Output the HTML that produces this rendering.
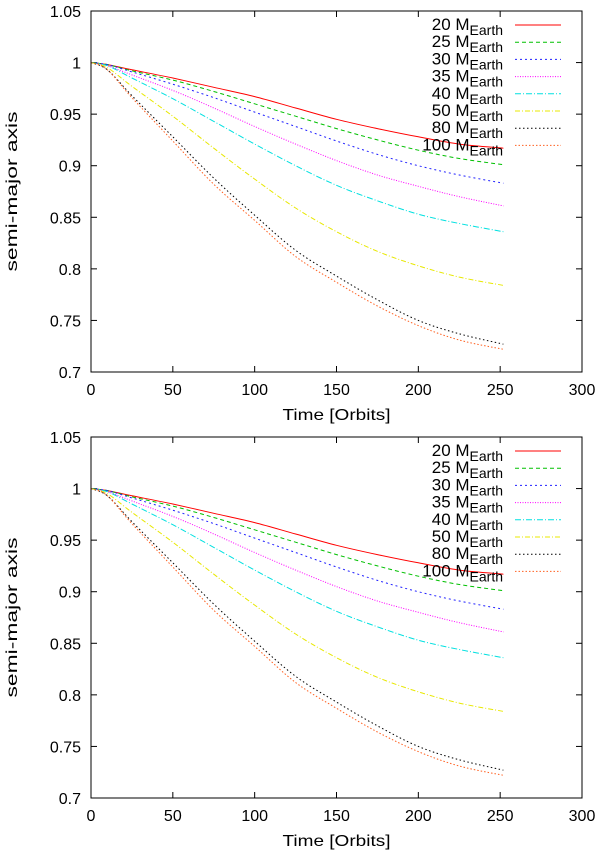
<!DOCTYPE html>
<html><head><meta charset="utf-8">
<style>
html,body{margin:0;padding:0;background:#fff;}
svg{display:block;font-family:"Liberation Sans",sans-serif;}
</style></head>
<body>
<svg id="chart" width="600" height="855" viewBox="0 0 600 855" xmlns="http://www.w3.org/2000/svg"></svg>
<script>
const times = [0,10,25,50,75,100,125,150,175,200,225,252];
const labels = ["20","25","30","35","40","50","80","100"];
const s20 = [1,.998,.993,.985,.976,.967,.956,.945,.936,.928,.921,.917];
const s25 = [1,.998,.992,.983,.972,.960,.948,.936,.925,.915,.907,.901];
const s30 = [1,.998,.991,.979,.966,.952,.938,.924,.911,.900,.891,.883];
const s35 = [1,.997,.988,.973,.956,.938,.921,.905,.891,.880,.870,.861];
const s40 = [1,.997,.985,.965,.943,.921,.900,.881,.866,.853,.844,.836];
const s50 = [1,.995,.977,.948,.917,.887,.859,.836,.817,.803,.792,.784];
const s80 = [1,.993,.968,.928,.888,.852,.818,.793,.770,.750,.737,.727];
const s100 = [1,.993,.966,.924,.882,.847,.812,.787,.764,.745,.731,.722];
const xTicks = [0,50,100,150,200,250,300];
const yTicks = [0.7,0.75,0.8,0.85,0.9,0.95,1,1.05];
const yTickLabels = ["0.7","0.75","0.8","0.85","0.9","0.95","1","1.05"];

const series=[s20,s25,s30,s35,s40,s50,s80,s100];
const colors=["#ff0000","#00c000","#2020ff","#ff00ff","#00e0e0","#e8e800","#000000","#ff6020"];
const dashes=["", "4,3","2,3","1,1.5","6,2,1,2","5,2,1,2","1.5,2.5","1.5,2"];
const NS="http://www.w3.org/2000/svg";
const svg=document.getElementById('chart');
function mk(tag,attrs,parent){const e=document.createElementNS(NS,tag);for(const k in attrs)e.setAttribute(k,attrs[k]);(parent||svg).appendChild(e);return e;}
function smooth(pts){
  let d='M'+pts[0][0].toFixed(1)+','+pts[0][1].toFixed(1);
  for(let i=0;i<pts.length-1;i++){
    const p0=pts[Math.max(0,i-1)],p1=pts[i],p2=pts[i+1],p3=pts[Math.min(pts.length-1,i+2)];
    const c1=[p1[0]+(p2[0]-p0[0])/6,p1[1]+(p2[1]-p0[1])/6];
    const c2=[p2[0]-(p3[0]-p1[0])/6,p2[1]-(p3[1]-p1[1])/6];
    d+=' C'+c1[0].toFixed(1)+','+c1[1].toFixed(1)+' '+c2[0].toFixed(1)+','+c2[1].toFixed(1)+' '+p2[0].toFixed(1)+','+p2[1].toFixed(1);
  }
  return d;
}

function panel(top,bottom,idx){
  const L=91,R=582;
  const g=mk('g',{});
  
  
  const xs=v=>L+(v/300)*(R-L);
  const ys=v=>bottom-(v-0.7)/0.35*(bottom-top);
  xTicks.forEach(t=>{
    const x=xs(t);
    mk('line',{x1:x,x2:x,y1:bottom,y2:bottom-6,stroke:'#000'},g);
    mk('line',{x1:x,x2:x,y1:top,y2:top+6,stroke:'#000'},g);
    const tx=mk('text',{x:x,y:bottom+23,'text-anchor':'middle','font-size':'16'},g);
    tx.textContent=t;
    
    
  });
  yTicks.forEach((t,i)=>{
    const y=ys(t);
    mk('line',{x1:L,x2:L+6,y1:y,y2:y,stroke:'#000'},g);
    mk('line',{x1:R,x2:R-6,y1:y,y2:y,stroke:'#000'},g);
    const tx=mk('text',{x:L-10,y:y+6,'text-anchor':'end','font-size':'16'},g);
    tx.textContent=yTickLabels[i];
    
    
  });
  series.forEach((s,i)=>{
    const pts=s.map((v,j)=>[xs(times[j]),ys(v)]);
    const p=mk('path',{d:smooth(pts),fill:'none',stroke:colors[i],'stroke-width':'1','stroke-dasharray':dashes[i]},g);
    
    
  });
  for(let i=0;i<labels.length;i++){
    const y=top+14+i*17.2;
    const t=mk('text',{x:503,y:y+5,'text-anchor':'end','font-size':'17'},g);
    
    
    const a=mk('tspan',{},t);a.textContent=labels[i]+' M';
    const b=mk('tspan',{dy:'5','font-size':'14'},t);b.textContent='Earth';
    mk('line',{x1:515,x2:561,y1:y,y2:y,stroke:colors[i],'stroke-dasharray':dashes[i]},g);
  }
  const f=mk('rect',{x:L,y:top,width:R-L,height:bottom-top,fill:'none',stroke:'#000','stroke-width':'1'},g);
  
  
  const xl=mk('text',{x:(L+R)/2,y:bottom+48,'text-anchor':'middle','font-size':'16',textLength:'108',lengthAdjust:'spacingAndGlyphs'},g);
  xl.textContent='Time [Orbits]';
  
  
  const cy=(top+bottom)/2;
  const yl=mk('text',{x:17,y:cy,'text-anchor':'middle','font-size':'16',textLength:'160',lengthAdjust:'spacingAndGlyphs',transform:'rotate(-90 17 '+cy+')'},g);
  yl.textContent='semi-major axis';
  
  
}
panel(11,372,'top');
panel(437,798,'bottom');
</script>
</body></html>
